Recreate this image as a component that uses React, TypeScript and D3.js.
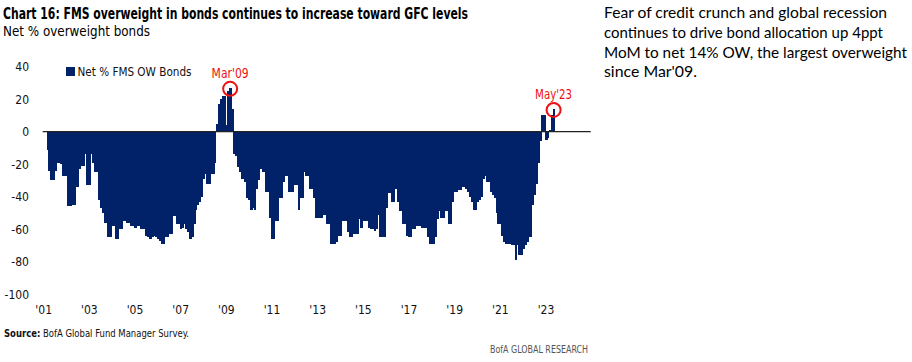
import { useEffect, useRef } from 'react';
import * as d3 from 'd3';

// months are counted from Jan 2001; the axis runs to Dec 2024
const AXIS_MONTHS = 288;
const FIRST_MONTH = 2; // first survey point: Mar 2001

// Net % FMS overweight bonds, monthly Mar'01 .. May'23
const netOwBonds = [
  // 2001 (Mar-Dec)
  -11, -24, -30, -30, -24, -19, -19, -20, -27, -27,
  // 2002
  -27, -46, -46, -45, -45, -34, -34, -23, -21, -21, -14, -33,
  // 2003
  -33, -14, -19, -25, -25, -42, -47, -50, -56, -56, -65, -65,
  // 2004
  -58, -58, -66, -66, -60, -60, -55, -55, -56, -56, -58, -58,
  // 2005
  -59, -58, -58, -60, -60, -60, -64, -65, -66, -65, -64, -65,
  // 2006
  -66, -67, -69, -69, -65, -65, -63, -63, -52, -52, -57, -57,
  // 2007
  -60, -59, -57, -60, -62, -66, -65, -57, -48, -45, -43, -40,
  // 2008
  -29, -26, -32, -32, -26, -26, -19, 5, 17, 20, 22, 22,
  // 2009
  4, 25, 27, 14, -14, -15, -22, -25, -29, -29, -31, -41,
  // 2010
  -42, -48, -47, -48, -35, -30, -23, -25, -25, -37, -37, -53,
  // 2011
  -66, -66, -55, -55, -41, -41, -31, -27, -27, -37, -37, -37,
  // 2012
  -33, -33, -48, -41, -41, -25, -27, -27, -35, -35, -41, -53,
  // 2013
  -53, -53, -53, -51, -51, -57, -57, -69, -69, -69, -68, -64,
  // 2014
  -64, -55, -55, -55, -62, -65, -65, -63, -63, -63, -54, -59,
  // 2015
  -55, -55, -55, -59, -60, -60, -61, -60, -51, -65, -65, -65,
  // 2016
  -47, -38, -38, -43, -43, -35, -43, -49, -49, -57, -57, -64,
  // 2017
  -65, -65, -60, -60, -58, -58, -58, -59, -59, -59, -65, -69,
  // 2018
  -69, -69, -65, -54, -49, -53, -53, -49, -49, -57, -57, -43,
  // 2019
  -37, -37, -36, -36, -34, -34, -35, -37, -40, -43, -48, -48,
  // 2020
  -43, -42, -40, -29, -27, -31, -31, -37, -39, -41, -50, -57,
  // 2021
  -57, -64, -68, -69, -69, -69, -70, -70, -79, -70, -76, -76,
  // 2022
  -72, -70, -68, -65, -65, -45, -39, -32, -19, -6, 10, 10,
  // 2023 (Jan-May)
  -5, -4, 1, 10, 14,
];

const tickYears = [2001, 2003, 2005, 2007, 2009, 2011, 2013, 2015, 2017, 2019, 2021, 2023];
const yTicks = [40, 20, 0, -20, -40, -60, -80, -100];

const calloutLabels = ["Mar'09", "May'23"];
const calloutMonths = [98, 268];

const noteLines = [
  'Fear of credit crunch and global recession',
  'continues to drive bond allocation up 4ppt',
  'MoM to net 14% OW, the largest overweight',
  "since Mar'09.",
];
const noteWidths = [283, 279, 303, 93];

const NAVY = '#012169';
const RED = '#ee1111';
const NARROW = "'Liberation Sans Narrow', 'DejaVu Sans Condensed', 'Arial Narrow', 'Liberation Sans', sans-serif";

export default function App() {
  const svgRef = useRef<SVGSVGElement>(null);

  useEffect(() => {
    if (!svgRef.current) return;
    const svg = d3.select(svgRef.current);
    svg.selectAll('*').remove();

    const x = d3
      .scaleBand<number>()
      .domain(d3.range(AXIS_MONTHS))
      .range([42.7, 590.7])
      .padding(0);
    const y = d3.scaleLinear().domain([-100, 40]).range([294.2, 66.7]);
    const bw = x.bandwidth();

    const points = netOwBonds.map((v, i) => ({ m: FIRST_MONTH + i, v }));

    // ── Titles ────────────────────────────────────────────────
    svg
      .append('text')
      .attr('x', 3)
      .attr('y', 19)
      .attr('font-family', NARROW)
      .attr('font-weight', 700)
      .attr('font-size', 15)
      .attr('textLength', 465)
      .attr('lengthAdjust', 'spacingAndGlyphs')
      .attr('fill', '#000')
      .text('Chart 16: FMS overweight in bonds continues to increase toward GFC levels');

    svg
      .append('text')
      .attr('x', 3)
      .attr('y', 36)
      .attr('font-family', NARROW)
      .attr('font-size', 14)
      .attr('textLength', 147)
      .attr('lengthAdjust', 'spacingAndGlyphs')
      .attr('fill', '#000')
      .text('Net % overweight bonds');

    // ── Bars ──────────────────────────────────────────────────
    // slight overlap + crisp edges so the bars read as one solid area
    svg
      .append('g')
      .attr('shape-rendering', 'crispEdges')
      .selectAll('rect')
      .data(points)
      .join('rect')
      .attr('x', d => x(d.m)!)
      .attr('width', bw + 0.6)
      .attr('y', d => y(Math.max(0, d.v)))
      .attr('height', d => Math.abs(y(d.v) - y(0)))
      .attr('fill', NAVY);

    // zero line
    svg
      .append('line')
      .attr('x1', x.range()[0])
      .attr('x2', x.range()[1])
      .attr('y1', y(0))
      .attr('y2', y(0))
      .attr('stroke', '#222')
      .attr('stroke-width', 1.2);

    // ── Axes ──────────────────────────────────────────────────
    svg
      .append('g')
      .attr('transform', 'translate(29,0)')
      .call(
        d3
          .axisLeft(y)
          .tickValues(yTicks)
          .tickSize(0)
          .tickPadding(0)
          .tickFormat(d => String(d)),
      )
      .call(g => {
        g.select('.domain').remove();
        g.selectAll('text')
          .attr('font-family', NARROW)
          .attr('font-size', 12)
          .attr('fill', '#111');
      });

    svg
      .append('g')
      .attr('transform', 'translate(0,305)')
      .call(
        d3
          .axisBottom(x)
          .tickValues(tickYears.map(yr => (yr - 2001) * 12))
          .tickSize(0)
          .tickPadding(0)
          .tickFormat(m => `'${String(2001 + Math.floor(m / 12)).slice(2)}`),
      )
      .call(g => {
        g.select('.domain').remove();
        g.selectAll('text')
          .attr('font-family', NARROW)
          .attr('font-size', 12)
          .attr('fill', '#111');
      });

    // ── Legend ────────────────────────────────────────────────
    svg
      .append('rect')
      .attr('x', 66)
      .attr('y', 67)
      .attr('width', 9)
      .attr('height', 9)
      .attr('fill', NAVY);
    svg
      .append('text')
      .attr('x', 77.5)
      .attr('y', 76)
      .attr('font-family', NARROW)
      .attr('font-size', 12)
      .attr('textLength', 114)
      .attr('lengthAdjust', 'spacingAndGlyphs')
      .attr('fill', '#111')
      .text('Net % FMS OW Bonds');

    // ── Callouts ──────────────────────────────────────────────
    calloutMonths.forEach((m, k) => {
      const v = netOwBonds[m - FIRST_MONTH];
      const cx = x(m)! + bw / 2;
      const cy = y(v) + 1;
      svg
        .append('circle')
        .attr('cx', cx)
        .attr('cy', cy)
        .attr('r', 7)
        .attr('fill', 'none')
        .attr('stroke', RED)
        .attr('stroke-width', 2);
      svg
        .append('text')
        .attr('x', cx)
        .attr('y', cy - 11)
        .attr('text-anchor', 'middle')
        .attr('font-family', NARROW)
        .attr('font-size', 14)
        .attr('textLength', 37)
        .attr('lengthAdjust', 'spacingAndGlyphs')
        .attr('fill', RED)
        .text(calloutLabels[k]);
    });

    // ── Footer ────────────────────────────────────────────────
    const src = svg
      .append('text')
      .attr('x', 4)
      .attr('y', 337)
      .attr('font-family', NARROW)
      .attr('font-size', 10)
      .attr('textLength', 185)
      .attr('lengthAdjust', 'spacingAndGlyphs')
      .attr('fill', '#111');
    src.append('tspan').attr('font-weight', 700).text('Source:');
    src.append('tspan').text('  BofA Global Fund Manager Survey.');

    svg
      .append('text')
      .attr('x', 588)
      .attr('y', 353)
      .attr('text-anchor', 'end')
      .attr('font-family', NARROW)
      .attr('font-size', 10.5)
      .attr('textLength', 98)
      .attr('lengthAdjust', 'spacingAndGlyphs')
      .attr('fill', '#555')
      .text('BofA GLOBAL RESEARCH');

    // ── Side note ─────────────────────────────────────────────
    svg
      .append('g')
      .selectAll('text')
      .data(noteLines)
      .join('text')
      .attr('x', 604)
      .attr('y', (_, i) => 18 + i * 19.8)
      .attr('font-family', "Lato, 'Open Sans', sans-serif")
      .attr('font-size', 15)
      .attr('textLength', (_, i) => noteWidths[i])
      .attr('lengthAdjust', 'spacingAndGlyphs')
      .attr('fill', '#000')
      .text(d => d);
  }, []);

  return (
    <svg
      ref={svgRef}
      width={912}
      height={362}
      style={{ position: 'absolute', left: 0, top: 0, background: '#fff' }}
    />
  );
}
